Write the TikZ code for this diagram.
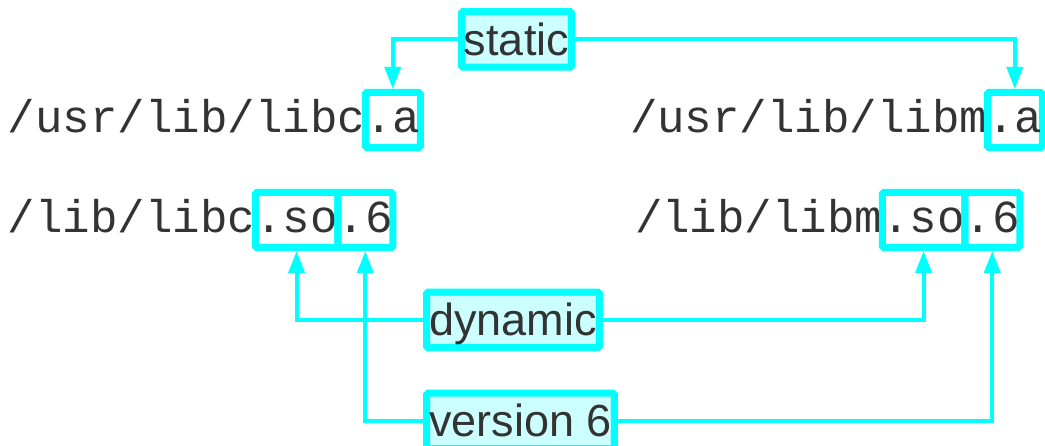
\documentclass[tikz,border=0pt]{standalone}
\usepackage{fontspec}
\setmainfont{Liberation Sans}
\setmonofont{Liberation Mono}
\usetikzlibrary{arrows.meta}
\definecolor{cy}{HTML}{00FFFF}
\definecolor{cyfill}{HTML}{CCFFFF}
\definecolor{ink}{HTML}{333333}
\begin{document}
\begin{tikzpicture}[x=1pt,y=-1pt,
  mono/.style={font=\ttfamily\fontsize{45.8}{50}\selectfont, text=ink, inner sep=0pt, outer sep=0pt, anchor=base west},
  monobox/.style={mono, draw=cy, line width=7pt, rounded corners=1.5pt, text height=40.5pt, text depth=14.5pt},
  lab/.style={font=\fontsize{45}{50}\selectfont, text=ink, draw=cy, fill=cyfill, line width=7pt, rounded corners=1.5pt, inner xsep=2.7pt, inner ysep=0pt, outer sep=0pt, text height=43.5pt, text depth=12pt},
  conn/.style={draw=cy, line width=4pt, -{Triangle[length=22pt,width=16pt]}, shorten >=3.5pt}]
\useasboundingbox (0,0) rectangle (1045,446);

% file names
\node[mono] (c1) at (8,133) {/usr/lib/libc};
\node[monobox] (ca) at (c1.base east) {.a};
\node[mono] (m1) at (630,133) {/usr/lib/libm};
\node[monobox] (ma) at (m1.base east) {.a};
\node[mono] (c2) at (8,233) {/lib/libc};
\node[monobox] (cso) at (c2.base east) {.so};
\node[monobox] (c6) at (cso.base east) {.6};
\node[mono] (m2) at (635,233) {/lib/libm};
\node[monobox] (mso) at (m2.base east) {.so};
\node[monobox] (m6) at (mso.base east) {.6};

% labels
\node[lab] (static) at (516.5,39.5) {static};
\node[lab, anchor=west] (dyn) at (426.5,320) {dynamic};
\node[lab, anchor=west] (ver) at (426.5,421) {version 6};

% connectors
\draw[conn] (static.west) -| (ca.north);
\draw[conn] (static.east) -| (ma.north);
\draw[conn] (dyn.west) -| (cso.south);
\draw[conn] (dyn.east) -| (mso.south);
\draw[conn] (ver.west) -| (c6.south);
\draw[conn] (ver.east) -| (m6.south);
\end{tikzpicture}
\end{document}
